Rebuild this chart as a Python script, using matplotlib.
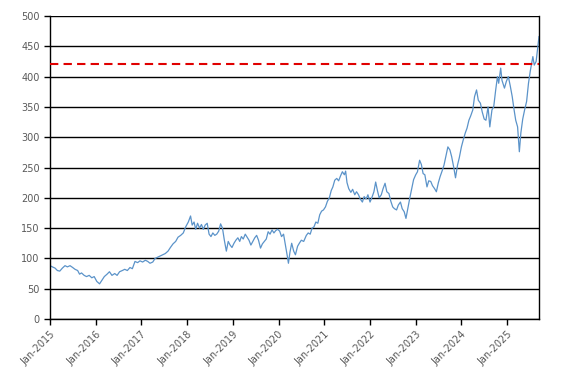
import matplotlib
matplotlib.use("Agg")
import matplotlib.pyplot as plt
import matplotlib.dates as mdates
import pandas as pd

dates = [
    "2015-01-01","2015-01-20","2015-02-10","2015-03-01","2015-03-20","2015-04-10","2015-05-01","2015-05-20",
    "2015-06-10","2015-07-01","2015-07-20","2015-08-10","2015-08-25","2015-09-10","2015-10-01","2015-10-20",
    "2015-11-10","2015-12-01","2015-12-20","2016-01-10","2016-02-01","2016-02-20","2016-03-10","2016-04-01",
    "2016-04-20","2016-05-10","2016-06-01","2016-06-20","2016-07-10","2016-08-01","2016-08-20","2016-09-10",
    "2016-10-01","2016-10-20","2016-11-10","2016-12-01","2016-12-20","2017-01-10","2017-02-01","2017-02-20",
    "2017-03-10","2017-04-01","2017-04-20","2017-05-10","2017-06-01","2017-06-20","2017-07-10","2017-08-01",
    "2017-08-20","2017-09-10","2017-10-01","2017-10-20","2017-11-10","2017-12-01","2017-12-20","2018-01-10",
    "2018-01-28","2018-02-10","2018-02-25","2018-03-10","2018-03-25","2018-04-10","2018-04-25","2018-05-10",
    "2018-05-25","2018-06-10","2018-06-25","2018-07-10","2018-07-25","2018-08-10","2018-08-25","2018-09-10",
    "2018-09-25","2018-10-10","2018-10-25","2018-11-10","2018-11-25","2018-12-10","2018-12-25","2019-01-10",
    "2019-01-25","2019-02-10","2019-02-25","2019-03-10","2019-03-25","2019-04-10","2019-04-25","2019-05-10",
    "2019-05-25","2019-06-10","2019-06-25","2019-07-10","2019-07-25","2019-08-10","2019-08-25","2019-09-10",
    "2019-09-25","2019-10-10","2019-10-25","2019-11-10","2019-11-25","2019-12-10","2019-12-25","2020-01-10",
    "2020-01-25","2020-02-10","2020-02-25","2020-03-10","2020-03-20","2020-04-01","2020-04-15","2020-05-01",
    "2020-05-15","2020-06-01","2020-06-15","2020-07-01","2020-07-20","2020-08-10","2020-08-25","2020-09-10",
    "2020-09-25","2020-10-10","2020-10-25","2020-11-10","2020-11-25","2020-12-10","2020-12-25","2021-01-10",
    "2021-01-25","2021-02-10","2021-02-25","2021-03-10","2021-03-25","2021-04-10","2021-04-25","2021-05-10",
    "2021-05-25","2021-06-10","2021-06-20","2021-07-01","2021-07-15","2021-08-01","2021-08-15","2021-09-01",
    "2021-09-15","2021-10-01","2021-10-15","2021-11-01","2021-11-15","2021-12-01","2021-12-15","2022-01-01",
    "2022-01-15","2022-02-01","2022-02-15","2022-03-01","2022-03-15","2022-04-01","2022-04-15","2022-05-01",
    "2022-05-15","2022-06-01","2022-06-15","2022-07-01","2022-07-15","2022-08-01","2022-08-15","2022-09-01",
    "2022-09-15","2022-10-01","2022-10-15","2022-11-01","2022-11-15","2022-12-01","2022-12-15","2023-01-01",
    "2023-01-15","2023-02-01","2023-02-15","2023-03-01","2023-03-15","2023-04-01","2023-04-15","2023-05-01",
    "2023-05-15","2023-06-01","2023-06-15","2023-07-01","2023-07-15","2023-08-01","2023-08-15","2023-09-01",
    "2023-09-15","2023-10-01","2023-10-15","2023-11-01","2023-11-15","2023-12-01","2023-12-15","2024-01-01",
    "2024-01-15","2024-02-01","2024-02-15","2024-03-01","2024-03-15","2024-04-01","2024-04-15","2024-05-01",
    "2024-05-15","2024-06-01","2024-06-15","2024-07-01","2024-07-15","2024-08-01","2024-08-15","2024-09-01",
    "2024-09-15","2024-10-01","2024-10-15","2024-10-25","2024-11-10","2024-11-20","2024-12-10","2024-12-25",
    "2025-01-10","2025-01-25","2025-02-10","2025-02-25","2025-03-10","2025-03-25","2025-04-08","2025-04-20",
    "2025-05-05","2025-05-20","2025-06-05","2025-06-20","2025-07-05","2025-07-15","2025-07-25","2025-08-05",
    "2025-08-20","2025-09-12",
]
values = [
    88,86,84,80,79,84,88,86,
    88,85,82,80,74,76,72,70,
    72,68,70,62,58,64,70,74,
    78,72,75,72,78,80,82,80,
    85,83,95,93,96,94,97,95,
    92,94,100,102,104,106,108,112,
    118,124,128,135,138,142,152,160,
    170,155,160,148,158,150,156,148,
    155,158,140,136,142,138,140,145,
    157,150,130,112,128,122,118,125,
    130,134,128,136,132,140,135,130,
    122,128,134,138,130,117,124,128,
    132,144,140,147,142,146,148,145,
    136,140,122,105,92,110,125,112,
    106,120,125,130,128,138,142,140,
    150,152,160,158,172,178,180,185,
    194,200,212,218,229,232,228,236,
    243,238,244,225,215,209,214,205,
    210,205,198,193,202,198,205,193,
    200,210,226,212,200,205,215,224,
    210,207,195,185,182,180,188,193,
    182,177,166,185,200,216,230,238,
    243,262,255,240,238,218,228,227,
    220,215,210,225,235,245,254,270,
    284,279,268,250,233,254,266,284,
    295,307,315,328,335,345,367,378,
    361,356,342,330,328,350,317,345,
    350,378,400,389,414,394,381,392,
    400,385,367,345,328,317,276,307,
    330,345,359,389,410,422,433,419,
    425,466,
]
threshold = 420
y_ticks = [0, 50, 100, 150, 200, 250, 300, 350, 400, 450, 500]
x_tick_years = list(range(2015, 2026))

dt = pd.to_datetime(dates)

fig = plt.figure(figsize=(5.67, 3.83), dpi=100)
ax = fig.add_axes([50/567, 1-319/383, (539-50)/567, (319-16)/383])

ax.plot(dt, values, color="#5b93c9", linewidth=0.9)
ax.axhline(threshold, color="#e00000", linewidth=1.5, linestyle=(0, (4, 2.5)), zorder=3)

ax.set_ylim(0, 500)
ax.set_yticks(y_ticks)
ax.set_xlim(pd.Timestamp("2015-01-01"), dt[-1])
ax.set_xticks([pd.Timestamp(f"{y}-01-01") for y in x_tick_years])
ax.xaxis.set_major_formatter(mdates.DateFormatter("%b-%Y"))

ax.grid(axis="y", color="black", linewidth=1.0)
ax.set_axisbelow(True)
for s in ["left", "bottom", "right"]:
    ax.spines[s].set_color("black")
    ax.spines[s].set_linewidth(1.0)
ax.spines["top"].set_visible(False)

ax.tick_params(axis="both", colors="black", labelcolor="#595959", labelsize=7, length=4, width=1, direction="out")
plt.setp(ax.get_xticklabels(), rotation=45, ha="right", rotation_mode="anchor")

fig.savefig("out.png", dpi=100)
